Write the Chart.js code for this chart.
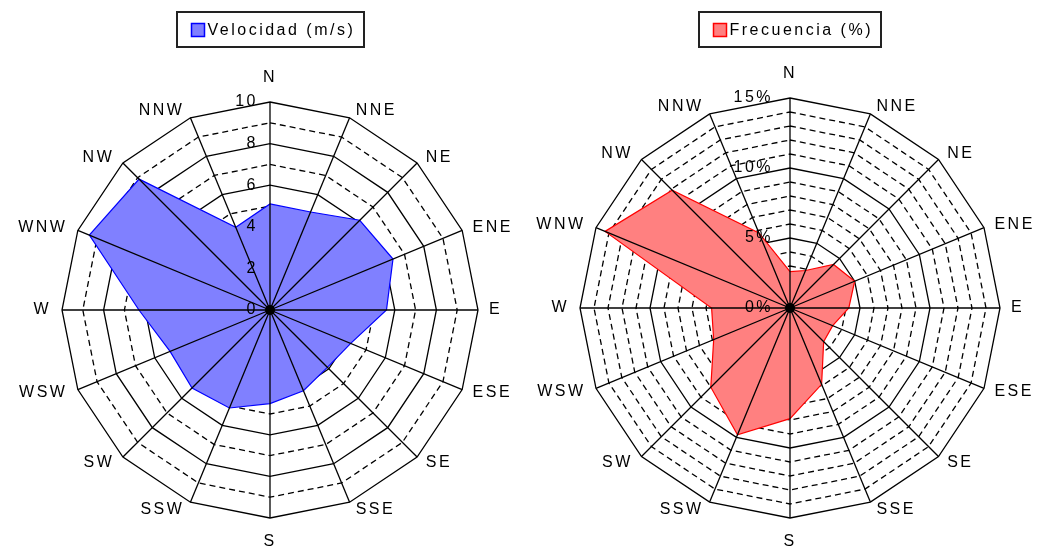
<!DOCTYPE html>
<html>
<head>
<meta charset="utf-8">
<script src="https://cdn.jsdelivr.net/npm/chart.js@4/dist/chart.umd.min.js"></script>
<style>
  html, body { margin: 0; padding: 0; background: #fff; }
  #wrap { position: relative; width: 1037px; height: 551px; overflow: hidden; }
  canvas { position: absolute; top: 0; }
  #velChart { left: 0; }
  #freqChart { left: 518px; }
</style>
</head>
<body>
<div id="wrap">
  <canvas id="velChart" width="518" height="551"></canvas>
  <canvas id="freqChart" width="519" height="551"></canvas>
</div>
<script>
// Wind rose: mean speed and frequency by direction

const directions = ["N", "NNE", "NE", "ENE", "E", "ESE", "SE", "SSE",
                    "S", "SSW", "SW", "WSW", "W", "WNW", "NW", "NNW"];

// Velocidad (m/s)
const velocidad = [5.1, 5.1, 6.1, 6.4, 5.6, 4.2, 3.9, 4.2,
                   4.5, 5.1, 5.3, 5.2, 6.3, 9.4, 8.9, 4.3];
const velTickValues = [0, 2, 4, 6, 8, 10];
const velTickLabels = ["0", "2", "4", "6", "8", "10"];

// Frecuencia (%)
const frecuencia = [2.6, 2.9, 4.4, 5.0, 4.2, 3.3, 3.4, 5.9,
                    7.9, 9.8, 8.0, 5.9, 5.6, 14.3, 11.9, 5.8];
const freqTickValues = [0, 5, 10, 15];
const freqTickLabels = ["0%", "5%", "10%", "15%"];

const FONT = "16px 'Liberation Sans', Arial, sans-serif";
const SPACING = "2.5px";
const LINE_W = 1.3;

// draws spokes over the fill, tick labels, direction labels and the boxed legend
const roseDecor = {
    id: 'roseDecor',
    beforeDraw(chart) {
        chart.ctx.letterSpacing = SPACING;
    },
    afterDatasetsDraw(chart, args, opts) {
        const scale = chart.scales.r;
        const ctx = chart.ctx;
        const R = scale.drawingArea;
        const cx = scale.xCenter, cy = scale.yCenter;

        ctx.save();
        ctx.letterSpacing = SPACING;
        ctx.strokeStyle = '#000';
        ctx.lineWidth = LINE_W;
        chart.data.labels.forEach((lab, i) => {
            const p = scale.getPointPosition(i, R);
            ctx.beginPath();
            ctx.moveTo(cx, cy);
            ctx.lineTo(p.x, p.y);
            ctx.stroke();
        });

        ctx.fillStyle = '#000';
        ctx.beginPath();
        ctx.arc(cx, cy, 5, 0, Math.PI * 2);
        ctx.fill();

        // tick labels along the north axis
        ctx.font = FONT;
        ctx.textAlign = 'right';
        ctx.textBaseline = 'middle';
        opts.tickLabels.forEach((t, k) => {
            const d = scale.getDistanceFromCenterForValue(opts.tickValues[k]);
            ctx.fillText(t, cx - opts.tickGap, cy - d);
        });

        // direction labels
        chart.data.labels.forEach((lab, i) => {
            const a = scale.getIndexAngle(i);
            const s = Math.sin(a);
            if (Math.abs(s) < 0.01) {
                const p = scale.getPointPosition(i, R + 24);
                ctx.textAlign = 'center';
                ctx.fillText(lab, p.x, p.y);
            } else {
                const p = scale.getPointPosition(i, R + 8);
                ctx.textAlign = s > 0 ? 'left' : 'right';
                ctx.fillText(lab, p.x + (s > 0 ? 3 : -3), p.y);
            }
        });
        ctx.restore();
    },
    afterDraw(chart) {
        const scale = chart.scales.r;
        const ctx = chart.ctx;
        const ds = chart.data.datasets[0];
        ctx.save();
        ctx.letterSpacing = SPACING;
        ctx.font = FONT;
        const tw = ctx.measureText(ds.label).width;
        const box = 13, gap = 3, padL = 14, padR = 9;
        const w = padL + box + gap + tw + padR;
        const h = 35;
        const x0 = Math.round(scale.xCenter - w / 2);
        const y0 = 12;
        ctx.strokeStyle = '#222';
        ctx.lineWidth = 2;
        ctx.strokeRect(x0, y0, Math.round(w), h);
        const bx = x0 + padL + 0.5, by = Math.round(y0 + (h - box) / 2) + 0.5;
        ctx.fillStyle = ds.backgroundColor;
        ctx.fillRect(bx, by, box, box);
        ctx.strokeStyle = ds.borderColor;
        ctx.lineWidth = 1.5;
        ctx.strokeRect(bx, by, box, box);
        ctx.fillStyle = '#000';
        ctx.textAlign = 'left';
        ctx.textBaseline = 'middle';
        ctx.fillText(ds.label, bx + box + gap, y0 + h / 2 + 1);
        ctx.restore();
    }
};

function makeRose(canvasId, label, values, max, major, fillColor, lineColor, padding, tickValues, tickLabels, tickGap) {
    return new Chart(document.getElementById(canvasId), {
        type: 'radar',
        data: {
            labels: directions,
            datasets: [{
                label: label,
                data: values,
                backgroundColor: fillColor,
                borderColor: lineColor,
                borderWidth: 1.2,
                pointRadius: 0,
                fill: true,
                tension: 0
            }]
        },
        options: {
            responsive: false,
            animation: false,
            devicePixelRatio: 1,
            layout: { padding: padding },
            plugins: {
                legend: { display: false },
                tooltip: { enabled: false },
                roseDecor: { tickValues: tickValues, tickLabels: tickLabels, tickGap: tickGap }
            },
            scales: {
                r: {
                    min: 0,
                    max: max,
                    startAngle: 0,
                    ticks: { display: false, stepSize: 1 },
                    pointLabels: { display: false },
                    angleLines: { display: false },
                    grid: { color: '#000', lineWidth: LINE_W, circular: false },
                    border: {
                        dash: (c) => (c.tick && c.tick.value % major !== 0) ? [6, 4] : []
                    }
                }
            }
        },
        plugins: [roseDecor]
    });
}

makeRose('velChart', 'Velocidad (m/s)', velocidad, 10, 2,
    'rgb(128,128,255)', 'rgb(0,0,255)',
    { left: 62, right: 40, top: 102, bottom: 33 },
    velTickValues, velTickLabels, 12);

makeRose('freqChart', 'Frecuencia (%)', frecuencia, 15, 5,
    'rgb(255,128,128)', 'rgb(255,0,0)',
    { left: 62, right: 37, top: 98, bottom: 33 },
    freqTickValues, freqTickLabels, 17);
</script>
</body>
</html>
